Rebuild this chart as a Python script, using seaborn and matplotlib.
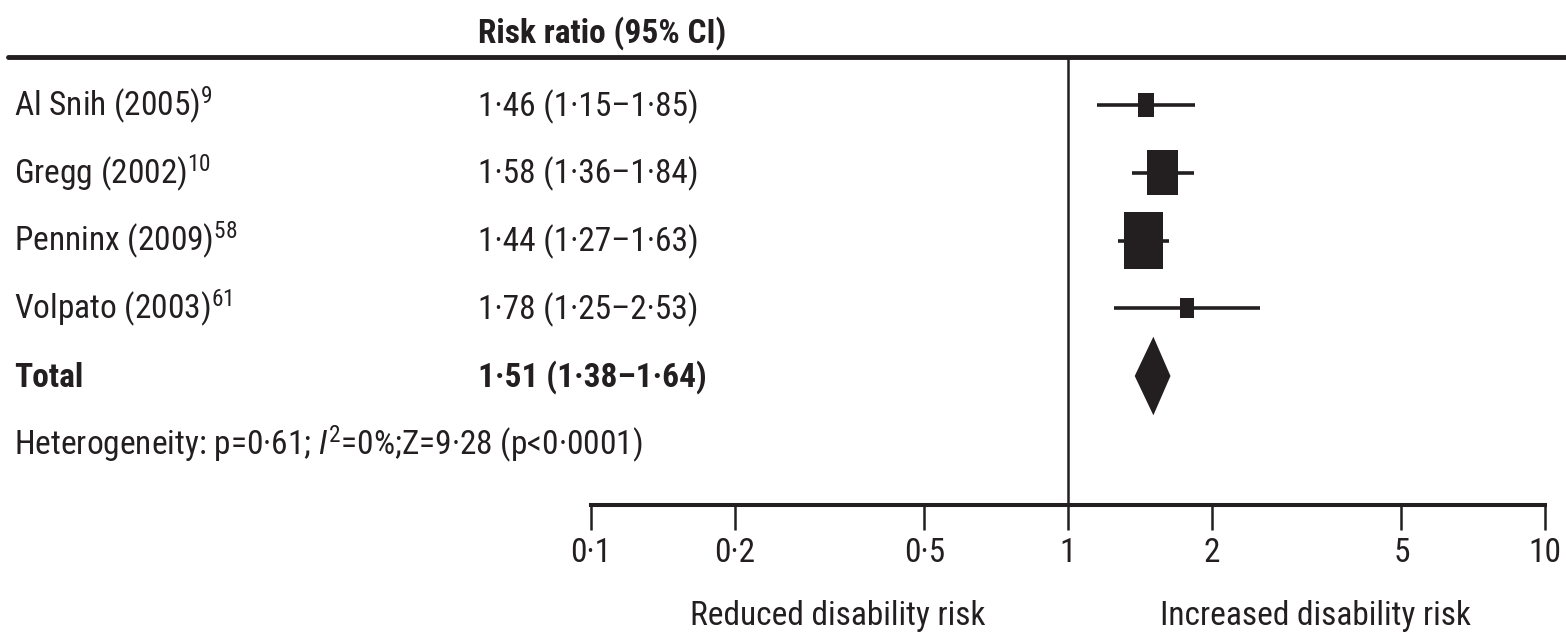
import numpy as np
import pandas as pd
import matplotlib
matplotlib.use("Agg")
import matplotlib.pyplot as plt
import matplotlib.transforms as mtransforms
from matplotlib.path import Path
from matplotlib.lines import Line2D
from matplotlib import font_manager
import seaborn as sns

# ---------------- data ----------------
studies = ["Al Snih (2005)", "Gregg (2002)", "Penninx (2009)", "Volpato (2003)"]
refs = ["9", "10", "58", "61"]
rr = [1.46, 1.58, 1.44, 1.78]
ci_low = [1.15, 1.36, 1.27, 1.25]
ci_high = [1.85, 1.84, 1.63, 2.53]
weights = [16, 31, 39, 14]
total_label = "Total"
total_rr = 1.51
total_low = 1.38
total_high = 1.64
het_p = "0·61"
het_i2 = "0%"
het_z = "9·28"
het_pz = "p<0·0001"
header = "Risk ratio (95% CI)"
tick_values = [0.1, 0.2, 0.5, 1, 2, 5, 10]
tick_labels = ["0·1", "0·2", "0·5", "1", "2", "5", "10"]
left_label = "Reduced disability risk"
right_label = "Increased disability risk"

# ---------------- style ----------------
W, H = 1566, 635
INK = "#231f20"
sns.set_style("white")
available = {f.name for f in font_manager.fontManager.ttflist}
FONT = "DejaVu Sans"
for cand in ["Liberation Sans Narrow", "DejaVu Sans Condensed", "Roboto Condensed", "Liberation Sans"]:
    if cand in available:
        FONT = cand
        break
plt.rcParams["font.family"] = [FONT, "DejaVu Sans"]
plt.rcParams["mathtext.fontset"] = "custom"
plt.rcParams["mathtext.rm"] = FONT
plt.rcParams["mathtext.it"] = FONT + ":italic"
plt.rcParams["mathtext.bf"] = FONT + ":bold"
plt.rcParams["mathtext.default"] = "regular"
FS = 24

def fmt(v):
    return f"{v:.2f}".replace(".", "·")

fig = plt.figure(figsize=(W / 100, H / 100), dpi=100)

row_px0, row_step = 105, 67.75
top_px, bot_px = 57, 505
ax = fig.add_axes([591 / W, (H - bot_px) / H, (1545 - 591) / W, (bot_px - top_px) / H])

# CI lines
n = len(studies)
rows = list(range(n))
ax.hlines(rows, ci_low, ci_high, color=INK, lw=2.6, zorder=2)

# squares (taller than wide, as in the reference)
aspect = 1.45
rect = Path([(-0.5 / aspect, -0.5), (0.5 / aspect, -0.5), (0.5 / aspect, 0.5),
             (-0.5 / aspect, 0.5), (-0.5 / aspect, -0.5)], closed=True)
df = pd.DataFrame({"rr": rr, "row": rows, "weight": weights})
sizes = {w: (aspect * w * 0.72) ** 2 for w in weights}
sns.scatterplot(data=df, x="rr", y="row", size="weight", sizes=sizes, marker=rect,
                color=INK, linewidth=0, legend=False, ax=ax, zorder=3)

# diamond for total
ty = n
dh = 0.58
ax.fill([total_low, total_rr, total_high, total_rr], [ty, ty - dh, ty, ty + dh],
        color=INK, lw=0, zorder=3)

ax.axvline(1, color=INK, lw=1.8, zorder=1)

ax.set_xscale("log")
ax.set_xlim(0.1, 10)
ax.set_ylim((bot_px - row_px0) / row_step, (top_px - row_px0) / row_step)
ax.set_xlabel("")
ax.set_ylabel("")
ax.set_yticks([])
ax.set_xticks(tick_values)
ax.set_xticklabels(tick_labels)
ax.xaxis.set_minor_locator(matplotlib.ticker.NullLocator())
for s in ["top", "left", "right"]:
    ax.spines[s].set_visible(False)
ax.spines["bottom"].set_linewidth(2.9)
ax.spines["bottom"].set_color(INK)
ax.tick_params(axis="x", which="major", bottom=True, direction="out", length=18, width=1.8,
               color=INK, labelsize=FS, labelcolor=INK, pad=5)
ax.patch.set_alpha(0)

# top rule
fig.add_artist(Line2D([8 / W, 1.0], [(H - top_px) / H] * 2, color=INK, lw=3.5))

# text columns
trans = mtransforms.blended_transform_factory(fig.transFigure, ax.transData) + \
    mtransforms.ScaledTranslation(0, -11 / 100, fig.dpi_scale_trans)
x_lab = 14 / W
x_val = 478 / W
for i in range(n):
    fig.text(x_lab, i, f"{studies[i]}$^{{{refs[i]}}}$", transform=trans, fontsize=FS,
             color=INK, va="baseline", ha="left")
    fig.text(x_val, i, f"{fmt(rr[i])} ({fmt(ci_low[i])}–{fmt(ci_high[i])})", transform=trans,
             fontsize=FS, color=INK, va="baseline", ha="left")
fig.text(x_lab, ty, total_label, transform=trans, fontsize=FS, color=INK, va="baseline",
         ha="left", fontweight="bold")
fig.text(x_val, ty, f"{fmt(total_rr)} ({fmt(total_low)}–{fmt(total_high)})", transform=trans,
         fontsize=FS, color=INK, va="baseline", ha="left", fontweight="bold")
fig.text(x_lab, ty + 1,
         f"Heterogeneity: p={het_p}; $\\mathit{{I}}^{{2}}$={het_i2};Z={het_z} ({het_pz})",
         transform=trans, fontsize=FS, color=INK, va="baseline", ha="left")

fig.text(x_val, (H - 43) / H, header, fontsize=FS, color=INK, fontweight="bold",
         va="baseline", ha="left")

fig.text(838 / W, (H - 625) / H, left_label, fontsize=FS, color=INK, ha="center", va="baseline")
fig.text(1316 / W, (H - 625) / H, right_label, fontsize=FS, color=INK, ha="center", va="baseline")

fig.savefig("out.png", dpi=100, facecolor="white")
